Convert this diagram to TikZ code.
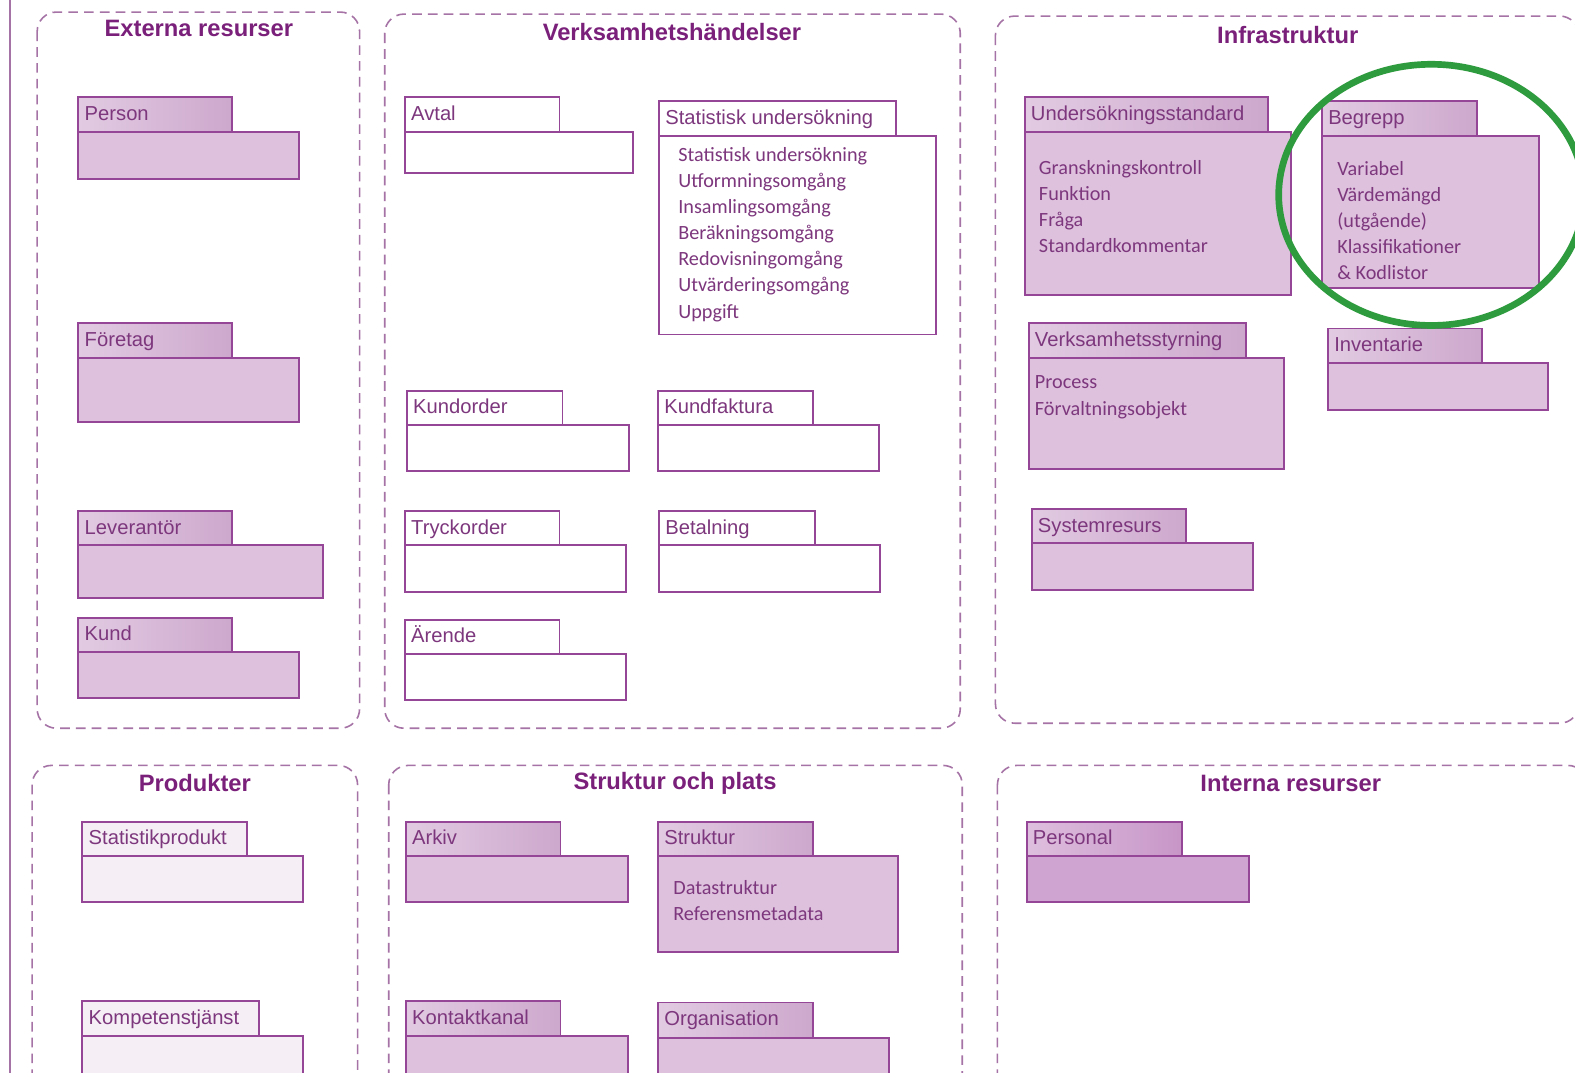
\documentclass[tikz,border=0pt]{standalone}
\usepackage{fontspec}
\setmainfont{Liberation Sans}
\newfontfamily\calfont{Carlito}

\definecolor{titlepurple}{RGB}{122,32,122}
\definecolor{labelpurple}{RGB}{125,55,125}
\definecolor{pkgline}{RGB}{150,70,150}
\definecolor{grpline}{RGB}{165,115,165}
\definecolor{tableft}{RGB}{226,203,226}
\definecolor{tabright}{RGB}{205,168,205}
\definecolor{bodyfill}{RGB}{221,193,221}
\definecolor{darkfill}{RGB}{208,164,208}
\definecolor{palefill}{RGB}{245,238,245}
\definecolor{ringgreen}{RGB}{46,155,62}

\tikzset{
  grp/.style={draw=grpline, line width=0.9pt, dash pattern=on 5.5pt off 3.5pt, rounded corners=11pt},
  grptitle/.style={font=\fontsize{13.5}{16}\selectfont\bfseries, text=titlepurple, inner sep=0pt},
  pkglabel/.style={anchor=west, inner sep=0pt, text height=1.5ex, text depth=.25ex,
    font=\fontsize{11.5}{14}\selectfont, text=labelpurple},
  pkgtext/.style={anchor=north west, inner sep=0pt, align=left,
    font=\calfont\fontsize{11.5}{14.9}\selectfont, text=labelpurple},
  purpletab/.style={draw=pkgline, line width=1.1pt, left color=tableft, right color=tabright},
  purplebody/.style={draw=pkgline, line width=1.1pt, fill=bodyfill},
  whitetab/.style={draw=pkgline, line width=1.1pt, fill=white},
  whitebody/.style={draw=pkgline, line width=1.1pt, fill=white},
  paletab/.style={draw=pkgline, line width=1.1pt, fill=palefill},
  palebody/.style={draw=pkgline, line width=1.1pt, fill=palefill},
  darktab/.style={draw=pkgline, line width=1.1pt, left color=darkfill!70!white, right color=darkfill!85!pkgline},
  darkbody/.style={draw=pkgline, line width=1.1pt, fill=darkfill},
  ring/.style={draw=ringgreen, line width=3.8pt}
}

% #1 name, #2 look, #3 label, tab (#4,#5)-(#6,#7), body down to (#8,#9)
\newcommand\pkg[9]{%
  \path[#2tab] (#4,#5) rectangle (#6,#7);
  \path[#2body] (#4,#7) rectangle (#8,#9);
  \node[pkglabel] (#1) at (#4+6,{(#5+#7)/2}) {#3};}

\begin{document}
\begin{tikzpicture}[x=0.02009cm, y=-0.02009cm]
  \clip (0,0) rectangle (1568,1068);
  \fill[white] (0,0) rectangle (1568,1068);
  \draw[grpline, line width=0.8pt] (10,0) -- (10,1068);

  % grupper
  \draw[grp] (37,12) rectangle (358,725);
  \node[grptitle] (externa) at (198,28) {Externa resurser};
  \draw[grp] (383,14) rectangle (956,725);
  \node[grptitle] (handelser) at (669,32) {Verksamhetshändelser};
  \draw[grp] (991,16) rectangle (1572,720);
  \node[grptitle] (infra) at (1282,35) {Infrastruktur};
  \draw[grp] (32,762) rectangle (356,1100);
  \node[grptitle] (produkter) at (194,780) {Produkter};
  \draw[grp] (387,762) rectangle (958,1100);
  \node[grptitle] (strukturplats) at (672,780) {Struktur och plats};
  \draw[grp] (993,762) rectangle (1580,1100);
  \node[grptitle] (interna) at (1285,780) {Interna resurser};

  % Externa resurser
  \pkg{person}{purple}{Person}{78}{97}{231}{131}{298}{178}
  \pkg{foretag}{purple}{Företag}{78}{322}{231}{356}{298}{420}
  \pkg{leverantor}{purple}{Leverantör}{78}{509}{231}{543}{322}{595}
  \pkg{kund}{purple}{Kund}{78}{615}{231}{649}{298}{695}

  % Verksamhetshändelser
  \pkg{avtal}{white}{Avtal}{403}{97}{557}{131}{630}{172}
  \pkg{statund}{white}{Statistisk undersökning}{656}{101}{892}{135}{932}{333}
  \node[pkgtext] (statundtext) at (675,146) {Statistisk undersökning\\Utformningsomgång\\Insamlingsomgång\\Beräkningsomgång\\Redovisningomgång\\Utvärderingsomgång\\Uppgift};
  \pkg{kundorder}{white}{Kundorder}{405}{389}{560}{423}{626}{469}
  \pkg{kundfaktura}{white}{Kundfaktura}{655}{389}{809}{423}{875}{469}
  \pkg{tryckorder}{white}{Tryckorder}{403}{509}{557}{543}{623}{589}
  \pkg{betalning}{white}{Betalning}{656}{509}{811}{543}{876}{589}
  \pkg{arende}{white}{Ärende}{403}{617}{557}{651}{623}{697}

  % Infrastruktur
  \pkg{undstd}{purple}{Undersökningsstandard}{1020}{97}{1262}{131}{1285}{294}
  \node[pkgtext] (undstdtext) at (1034,159) {Granskningskontroll\\Funktion\\Fråga\\Standardkommentar};
  \pkg{begrepp}{purple}{Begrepp}{1316}{101}{1470}{135}{1532}{287}
  \node[pkgtext] (begrepptext) at (1331,160) {Variabel\\Värdemängd\\(utgående)\\Klassifikationer\\\& Kodlistor};
  \pkg{styrning}{purple}{Verksamhetsstyrning}{1024}{322}{1240}{356}{1278}{467}
  \node[pkgtext] (styrningtext) at (1030,374) {Process\\Förvaltningsobjekt};
  \pkg{inventarie}{purple}{Inventarie}{1322}{327}{1475}{361}{1541}{408}
  \pkg{systemresurs}{purple}{Systemresurs}{1027}{507}{1181}{541}{1247}{587}
  \draw[ring] (1425,194) ellipse [x radius=152, y radius=130];

  % Produkter
  \pkg{statprod}{pale}{Statistikprodukt}{82}{818}{246}{852}{302}{898}
  \pkg{kompetens}{pale}{Kompetenstjänst}{82}{997}{258}{1031}{302}{1100}

  % Struktur och plats
  \pkg{arkiv}{purple}{Arkiv}{404}{818}{558}{852}{625}{898}
  \pkg{struktur}{purple}{Struktur}{655}{818}{809}{852}{894}{948}
  \node[pkgtext] (strukturtext) at (670,876) {Datastruktur\\Referensmetadata};
  \pkg{kontaktkanal}{purple}{Kontaktkanal}{404}{997}{558}{1031}{625}{1100}
  \pkg{organisation}{purple}{Organisation}{655}{998}{809}{1033}{885}{1100}

  % Interna resurser
  \pkg{personal}{dark}{Personal}{1022}{818}{1177}{852}{1243}{898}
\end{tikzpicture}
\end{document}
